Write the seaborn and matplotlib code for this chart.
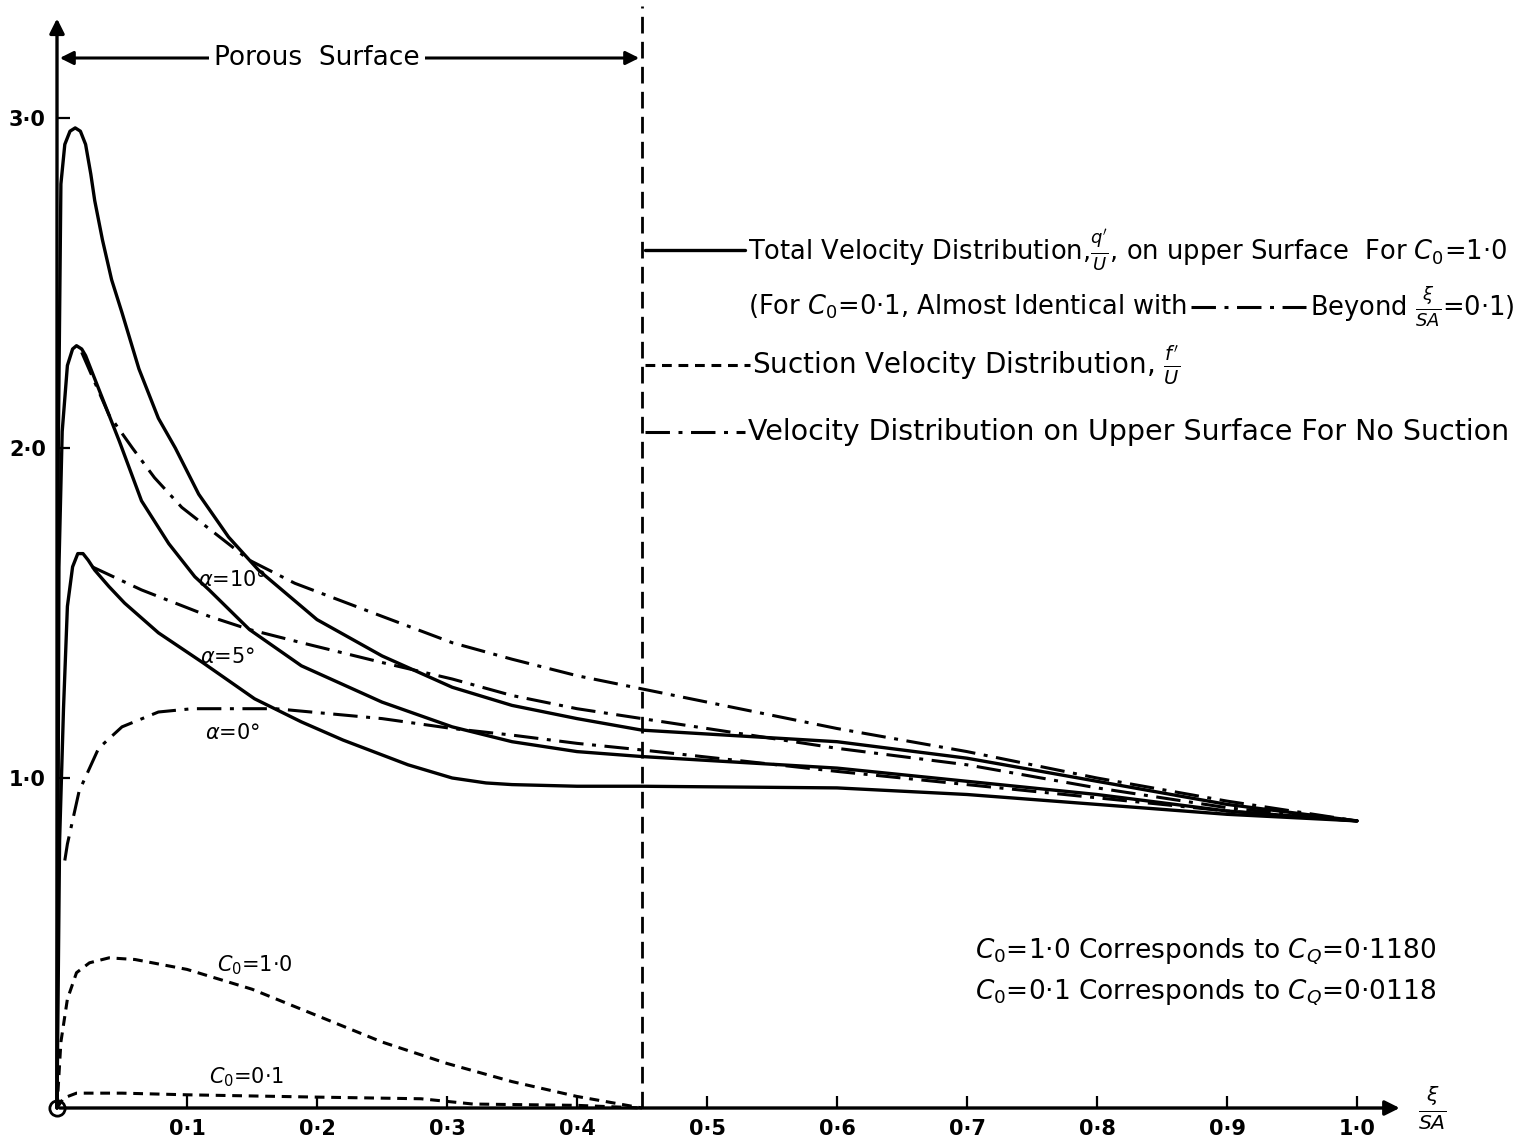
import numpy as np
import pandas as pd
import seaborn as sns
import matplotlib
matplotlib.use("Agg")
import matplotlib.pyplot as plt

# values (x = xi/SA)
# total velocity q'/U, upper surface, C0 = 1.0
x_a10 = [0.0, 0.001, 0.003, 0.006, 0.01, 0.014, 0.018, 0.022, 0.026, 0.029, 0.035, 0.042, 0.05,
         0.063, 0.078, 0.091, 0.109, 0.132, 0.155, 0.2, 0.25, 0.304, 0.35, 0.4, 0.45, 0.6, 0.7,
         0.8, 0.9, 1.0]
y_a10 = [0.0, 2.0, 2.8, 2.92, 2.96, 2.97, 2.96, 2.92, 2.83, 2.75, 2.63, 2.51, 2.41,
         2.24, 2.09, 2.0, 1.86, 1.73, 1.63, 1.48, 1.37, 1.275, 1.22, 1.18, 1.145, 1.11, 1.06,
         0.99, 0.92, 0.87]
x_a5 = [0.0, 0.0015, 0.004, 0.008, 0.012, 0.015, 0.019, 0.022, 0.028, 0.035, 0.048, 0.065,
        0.086, 0.106, 0.117, 0.148, 0.188, 0.25, 0.304, 0.35, 0.4, 0.45, 0.6, 0.7, 0.8, 0.9, 1.0]
y_a5 = [0.0, 1.64, 2.05, 2.25, 2.3, 2.31, 2.3, 2.28, 2.22, 2.15, 2.02, 1.84,
        1.71, 1.61, 1.57, 1.45, 1.34, 1.23, 1.155, 1.11, 1.08, 1.065, 1.03, 0.99, 0.95, 0.90, 0.87]
x_a0 = [0.0, 0.002, 0.005, 0.008, 0.012, 0.016, 0.02, 0.024, 0.029, 0.04, 0.052, 0.078, 0.112,
        0.152, 0.188, 0.22, 0.25, 0.27, 0.304, 0.33, 0.35, 0.4, 0.45, 0.6, 0.7, 0.8, 0.9, 1.0]
y_a0 = [0.0, 0.81, 1.21, 1.52, 1.64, 1.68, 1.68, 1.66, 1.63, 1.58, 1.53, 1.44, 1.35,
        1.24, 1.17, 1.115, 1.07, 1.04, 1.0, 0.985, 0.98, 0.975, 0.975, 0.97, 0.95, 0.92, 0.89, 0.87]

# no suction
x_n10 = [0.019, 0.04, 0.058, 0.075, 0.096, 0.122, 0.148, 0.183, 0.25, 0.304, 0.35, 0.4,
         0.45, 0.6, 0.7, 0.8, 0.9, 1.0]
y_n10 = [2.29, 2.1, 2.0, 1.91, 1.82, 1.74, 1.66, 1.59, 1.49, 1.41, 1.36, 1.31,
         1.27, 1.15, 1.08, 1.0, 0.93, 0.87]
x_n5 = [0.027, 0.065, 0.117, 0.148, 0.188, 0.25, 0.304, 0.35, 0.4, 0.45, 0.6, 0.7, 0.8, 0.9, 1.0]
y_n5 = [1.64, 1.57, 1.49, 1.45, 1.41, 1.35, 1.30, 1.25, 1.21, 1.18, 1.09, 1.04, 0.97, 0.91, 0.87]
x_n0 = [0.006, 0.008, 0.017, 0.032, 0.05, 0.078, 0.104, 0.168, 0.25, 0.304, 0.35, 0.4,
        0.45, 0.6, 0.7, 0.8, 0.9, 1.0]
y_n0 = [0.75, 0.80, 0.96, 1.09, 1.155, 1.2, 1.21, 1.21, 1.18, 1.15, 1.13, 1.105,
        1.085, 1.02, 0.98, 0.94, 0.90, 0.87]

# suction velocity f'/U
x_s10 = [0.0, 0.003, 0.008, 0.015, 0.025, 0.04, 0.06, 0.1, 0.15, 0.2, 0.25, 0.3, 0.35, 0.4, 0.45]
y_s10 = [0.0, 0.2, 0.33, 0.41, 0.44, 0.455, 0.45, 0.42, 0.36, 0.28, 0.2, 0.135, 0.08, 0.035, 0.0]
x_s01 = [0.0, 0.005, 0.015, 0.05, 0.1, 0.2, 0.28, 0.32, 0.4, 0.45]
y_s01 = [0.0, 0.03, 0.045, 0.045, 0.04, 0.033, 0.028, 0.012, 0.008, 0.0]

porous_end = 0.45
xticks = [0.1, 0.2, 0.3, 0.4, 0.5, 0.6, 0.7, 0.8, 0.9, 1.0]
xtick_labels = ["0·1", "0·2", "0·3", "0·4", "0·5", "0·6", "0·7", "0·8", "0·9", "1·0"]
yticks = [1, 2, 3]
ytick_labels = ["1·0", "2·0", "3·0"]

sns.set_style("white")
plt.rcParams["font.family"] = ["DejaVu Sans"]
plt.rcParams["mathtext.fontset"] = "dejavusans"
plt.rcParams["text.color"] = "black"
plt.rcParams["xtick.color"] = "black"
plt.rcParams["ytick.color"] = "black"

W, H = 1526, 1146
fig = plt.figure(figsize=(W / 100, H / 100), dpi=100)
ax = fig.add_axes([0, 0, 1, 1])

# pixel layout of the original drawing
x0_px, y0_px, sx, sy = 57, 1108, 1300, 330
ax.set_xlim(-x0_px / sx, (W - x0_px) / sx)
ax.set_ylim((y0_px - H) / sy, y0_px / sy)


def fx(px):
    return px / W


def fy(py):
    return 1 - py / H


solid = dict(color="black", lw=2.4)
dashdot = dict(color="black", lw=2.2, linestyle=(0, (8, 2.8, 1.3, 2.8)))
dashed = dict(color="black", lw=2.2, linestyle=(0, (3.2, 2.2)))

for xs, ys in [(x_a10, y_a10), (x_a5, y_a5), (x_a0, y_a0)]:
    sns.lineplot(x=xs, y=ys, ax=ax, estimator=None, sort=False, **solid)
for xs, ys in [(x_n10, y_n10), (x_n5, y_n5), (x_n0, y_n0)]:
    sns.lineplot(x=xs, y=ys, ax=ax, estimator=None, sort=False, **dashdot)
for xs, ys in [(x_s10, y_s10), (x_s01, y_s01)]:
    sns.lineplot(x=xs, y=ys, ax=ax, estimator=None, sort=False, **dashed)

# end of porous surface
ax.plot([porous_end, porous_end], [0, 3.34], color="black", lw=2.0, linestyle=(0, (6, 3)))

# axes as arrows
for s in ["top", "right", "left", "bottom"]:
    ax.spines[s].set_visible(False)
ax.spines["left"].set_position(("data", 0))
ax.spines["bottom"].set_position(("data", 0))
ax.annotate("", xy=(1.035, 0), xytext=(0, 0),
            arrowprops=dict(arrowstyle="-|>", color="black", lw=2.4, mutation_scale=22))
ax.annotate("", xy=(0, 3.31), xytext=(0, 0),
            arrowprops=dict(arrowstyle="-|>", color="black", lw=2.4, mutation_scale=22))
ax.plot([0], [0], marker="o", ms=11, mfc="none", mec="black", mew=2)
ax.text(1.047, 0.0, r"$\frac{\xi}{SA}$", fontsize=21, ha="left", va="center")

ax.set_xticks(xticks)
ax.set_xticklabels(xtick_labels, fontsize=15, fontweight="bold")
ax.set_yticks(yticks)
ax.set_yticklabels(ytick_labels, fontsize=15, fontweight="bold")
ax.tick_params(axis="x", direction="in", length=9, width=1.6, pad=8, bottom=True)
ax.tick_params(axis="y", direction="in", length=9, width=1.6, pad=8, left=True)

# porous surface span
yp = (y0_px - 58) / sy
ax.annotate("", xy=(0, yp), xytext=(porous_end, yp),
            arrowprops=dict(arrowstyle="<|-|>", color="black", lw=2.2, mutation_scale=20))
ax.text(0.2, yp, "Porous  Surface", fontsize=19, ha="center", va="center",
        bbox=dict(facecolor="white", edgecolor="none", pad=4))

# curve labels
lab = dict(fontsize=15, ha="center", va="center")
ax.text(0.135, 1.60, r"$\alpha$=10°", **lab)
ax.text(0.131, 1.367, r"$\alpha$=5°", **lab)
ax.text(0.135, 1.136, r"$\alpha$=0°", **lab)
ax.text(0.152, 0.433, r"$C_0$=1·0", **lab)
ax.text(0.146, 0.094, r"$C_0$=0·1", **lab)

# key
ax.plot([fx(645), fx(745)], [fy(250), fy(250)], transform=fig.transFigure, **solid)
fig.text(fx(748), fy(250),
         r"Total Velocity Distribution,$\frac{q^{\prime}}{U}$, on upper Surface  For $C_0$=1·0",
         fontsize=18.5, va="center", ha="left")
t1 = fig.text(fx(748), fy(307), r"(For $C_0$=0·1, Almost Identical with",
              fontsize=18.5, va="center", ha="left")
t2 = fig.text(fx(1515), fy(307), r"Beyond $\frac{\xi}{SA}$=0·1)",
              fontsize=18.5, va="center", ha="right")
fig.canvas.draw()
r = fig.canvas.get_renderer()
e1 = t1.get_window_extent(r)
e2 = t2.get_window_extent(r)
ax.plot([(e1.x1 + 4) / W, (e2.x0 - 4) / W], [fy(307), fy(307)],
        transform=fig.transFigure, **dashdot)

ax.plot([fx(645), fx(750)], [fy(365), fy(365)], transform=fig.transFigure, **dashed)
fig.text(fx(752), fy(365), r"Suction Velocity Distribution, $\frac{f^{\prime}}{U}$",
         fontsize=20, va="center", ha="left")
ax.plot([fx(645), fx(745)], [fy(432), fy(432)], transform=fig.transFigure, **dashdot)
fig.text(fx(748), fy(432), "Velocity Distribution on Upper Surface For No Suction",
         fontsize=20.5, va="center", ha="left")

fig.text(fx(975), fy(952), r"$C_0$=1·0 Corresponds to $C_Q$=0·1180",
         fontsize=19, va="center", ha="left")
fig.text(fx(975), fy(993), r"$C_0$=0·1 Corresponds to $C_Q$=0·0118",
         fontsize=19, va="center", ha="left")

fig.savefig("out.png", dpi=100)
